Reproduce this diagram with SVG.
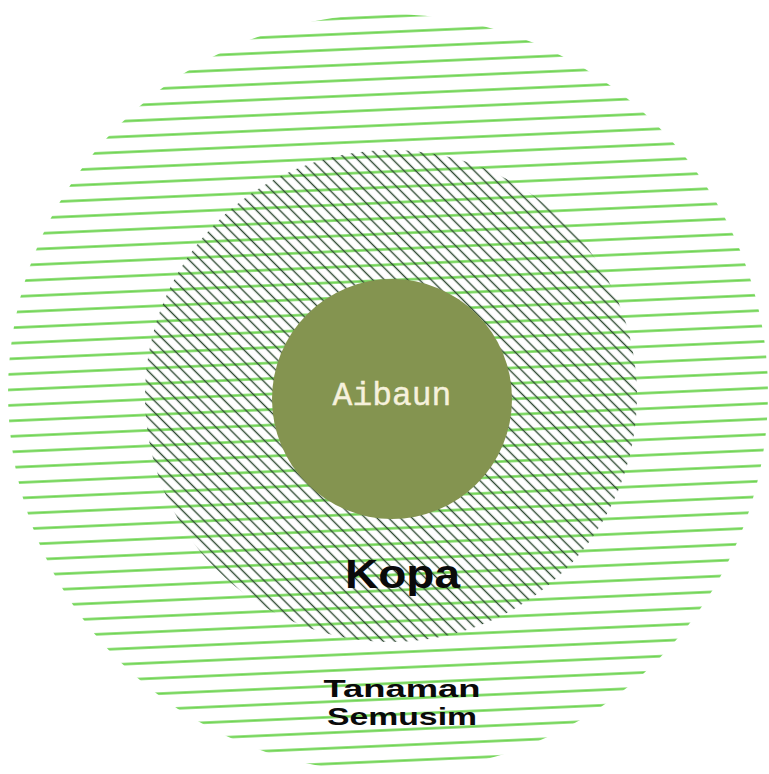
<svg xmlns="http://www.w3.org/2000/svg" width="769" height="774" viewBox="0 0 769 774">
  <style>
    .hatch-light { stroke: #6fd452; stroke-width: 2.3; stroke-linecap: round; }
    .hatch-dark { stroke: #2f4a33; stroke-width: 1.3; stroke-linecap: round; }
    .label-bold { font-family: "Liberation Sans", "Arial", sans-serif; font-weight: 700; fill: #0a0a0a; text-anchor: middle; }
    .label-mono { font-family: "Liberation Mono", "DejaVu Sans Mono", monospace; fill: #f6f1dc; stroke: #f6f1dc; stroke-width: 0.4; text-anchor: middle; }
  </style>
  <defs>
    <pattern id="hatchOuter" patternUnits="userSpaceOnUse" width="1200" height="15.5" patternTransform="rotate(-2.5)">
      <line class="hatch-light" x1="-10" y1="2.4" x2="1210" y2="2.4"/>
    </pattern>
    <pattern id="hatchMiddle" patternUnits="userSpaceOnUse" width="1200" height="8.27" patternTransform="rotate(45) translate(0 -3.665)">
      <line class="hatch-dark" x1="-10" y1="4.135" x2="1210" y2="4.135"/>
    </pattern>
  </defs>
  <rect width="769" height="774" fill="#ffffff"/>

  <g id="tanaman-semusim">
    <ellipse cx="388" cy="393" rx="380" ry="379" fill="url(#hatchOuter)"/>
  </g>

  <g id="kopa">
    <circle cx="391" cy="396" r="246" fill="url(#hatchMiddle)"/>
  </g>

  <g id="aibaun">
    <circle cx="392" cy="399" r="120" fill="#849450"/>
    <text class="label-mono" x="392" y="405" font-size="33">Aibaun</text>
  </g>

  <g id="labels">
    <text class="label-bold" x="402.5" y="588" font-size="40" textLength="115" lengthAdjust="spacingAndGlyphs">Kopa</text>
    <text class="label-bold" x="402" y="697" font-size="24.5" textLength="157" lengthAdjust="spacingAndGlyphs">Tanaman</text>
    <text class="label-bold" x="402" y="725" font-size="24.5" textLength="150" lengthAdjust="spacingAndGlyphs">Semusim</text>
  </g>
</svg>
